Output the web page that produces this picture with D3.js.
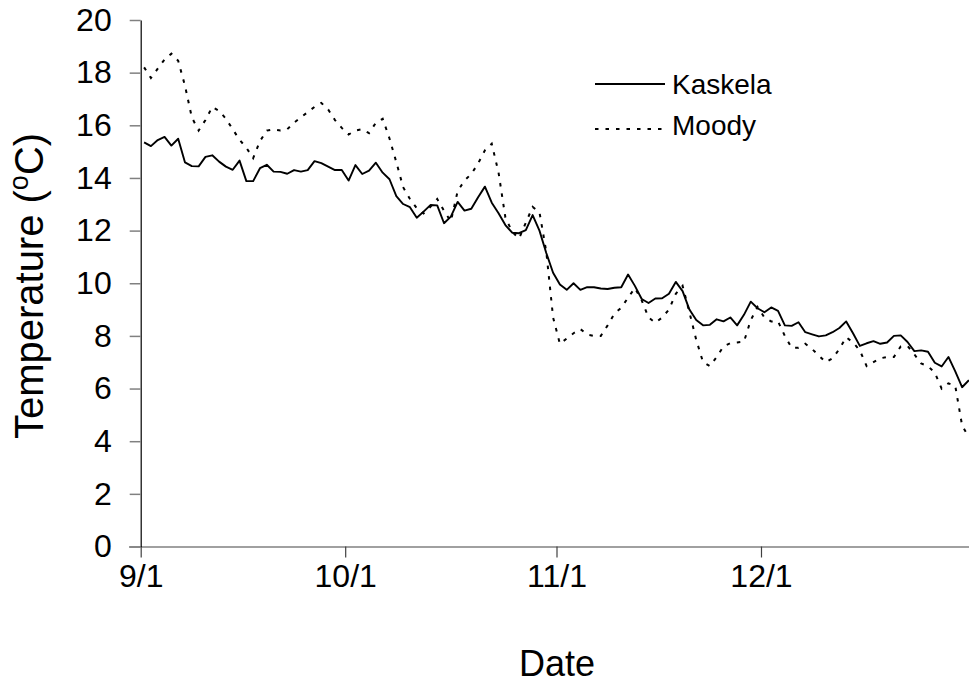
<!DOCTYPE html>
<html>
<head>
<meta charset="utf-8">
<script src="https://cdn.jsdelivr.net/npm/d3@7"></script>
<style>
  html, body { margin: 0; padding: 0; background: #fff; }
  svg { display: block; }
  text { font-family: "Liberation Sans", Arial, Helvetica, sans-serif; fill: #000; }
</style>
</head>
<body>
<svg id="chart" width="969" height="684"></svg>
<script>
// ---- data (daily, 1 Sep .. 31 Dec) ----
const startYear = 2001;
const kaskela = [
  15.35, 15.21, 15.44, 15.56, 15.23, 15.49, 14.59, 14.45, 14.44, 14.80,
  14.86, 14.62, 14.43, 14.31, 14.66, 13.88, 13.88, 14.37, 14.50, 14.24,
  14.23, 14.16, 14.30, 14.24, 14.30, 14.64, 14.56, 14.43, 14.30, 14.30,
  13.90, 14.49, 14.15, 14.28, 14.58, 14.20, 13.95, 13.31, 13.01, 12.89,
  12.49, 12.72, 12.97, 12.96, 12.28, 12.53, 13.09, 12.76, 12.83, 13.27,
  13.67, 13.06, 12.66, 12.21, 11.92, 11.90, 12.02, 12.59, 12.00, 11.15,
  10.40, 9.95, 9.75, 10.00, 9.75, 9.85, 9.85, 9.80, 9.78, 9.83,
  9.85, 10.33, 9.90, 9.40, 9.25, 9.42, 9.43, 9.60, 10.05, 9.70,
  9.00, 8.60, 8.40, 8.42, 8.63, 8.55, 8.70, 8.40, 8.80, 9.30,
  9.05, 8.90, 9.08, 8.95, 8.40, 8.38, 8.52, 8.14, 8.06, 7.98,
  8.02, 8.14, 8.30, 8.55, 8.10, 7.62, 7.72, 7.80, 7.70, 7.75,
  8.00, 8.02, 7.77, 7.42, 7.45, 7.40, 6.98, 6.84, 7.20, 6.65,
  6.05, 6.32
];
const moody = [
  18.20, 17.80, 18.15, 18.50, 18.72, 18.45, 17.50, 16.30, 15.80, 16.20,
  16.70, 16.55, 16.25, 15.85, 15.45, 15.15, 14.75, 15.40, 15.80, 15.85,
  15.80, 15.85, 16.10, 16.30, 16.50, 16.70, 16.85, 16.60, 16.20, 15.90,
  15.65, 15.80, 15.85, 15.70, 16.10, 16.25, 15.50, 14.60, 13.65, 13.20,
  12.85, 12.65, 12.90, 13.20, 12.75, 12.35, 13.50, 13.90, 14.15, 14.55,
  15.05, 15.30, 14.20, 12.50, 11.95, 11.70, 12.30, 12.90, 12.70, 11.20,
  8.70, 7.70, 7.90, 8.10, 8.26, 8.05, 8.00, 8.00, 8.40, 8.85,
  9.07, 9.45, 9.82, 9.35, 8.70, 8.50, 8.70, 9.00, 9.60, 9.90,
  8.90, 7.85, 7.00, 6.85, 7.20, 7.60, 7.72, 7.75, 7.78, 8.60,
  9.10, 8.70, 8.55, 8.55, 8.00, 7.55, 7.55, 7.70, 7.50, 7.25,
  7.00, 7.15, 7.50, 7.95, 7.75, 7.45, 6.85, 7.00, 7.15, 7.20,
  7.20, 7.60, 7.62, 7.30, 6.95, 6.85, 6.60, 6.00, 6.20, 6.10,
  4.60, 4.15
];
const seriesNames = ["Kaskela", "Moody"];
const yTicks = [0, 2, 4, 6, 8, 10, 12, 14, 16, 18, 20];
const xTickLabels = ["9/1", "10/1", "11/1", "12/1"];
const xTickMonths = [8, 9, 10, 11];   // month index of each tick (1st of month)

// ---- layout ----
const svg = d3.select("#chart");
const x = d3.scaleUtc()
  .domain([Date.UTC(startYear, 8, 1), Date.UTC(startYear + 1, 0, 1)])
  .range([140.7, 972.3]);
const y = d3.scaleLinear().domain([0, 20]).range([546.5, 20]);

const dayDate = i => new Date(Date.UTC(startYear, 8, 1 + i, 12));

// x axis
const xTickDates = xTickMonths.map(m => new Date(Date.UTC(startYear, m, 1)));
const xAxis = d3.axisBottom(x)
  .tickValues(xTickDates)
  .tickFormat((d, i) => xTickLabels[i])
  .tickSize(11)
  .tickSizeOuter(0)
  .tickPadding(7);
const gx = svg.append("g").attr("transform", `translate(0,${y(0)})`).call(xAxis);
gx.select(".domain").attr("stroke", "#808080").attr("stroke-width", 1.5)
  .attr("d", `M129,0.5H972`);
gx.selectAll(".tick line").attr("stroke", "#404040").attr("stroke-width", 1.2);
gx.selectAll(".tick text").attr("font-size", 32).attr("fill", "#000")
  .attr("font-family", "Liberation Sans, Arial, sans-serif");

// y axis
const yAxis = d3.axisLeft(y)
  .tickValues(yTicks)
  .tickSize(11)
  .tickSizeOuter(0)
  .tickPadding(18);
const gy = svg.append("g").attr("transform", `translate(${x(Date.UTC(startYear, 8, 1))},0)`).call(yAxis);
gy.select(".domain").attr("stroke", "#000").attr("stroke-width", 1.2);
gy.selectAll(".tick line").attr("stroke", "#808080").attr("stroke-width", 1.5);
gy.selectAll(".tick text").attr("font-size", 32).attr("fill", "#000")
  .attr("font-family", "Liberation Sans, Arial, sans-serif");

// lines
const line = d3.line()
  .x((d, i) => x(dayDate(i)))
  .y(d => y(d));

svg.append("path").datum(kaskela)
  .attr("fill", "none").attr("stroke", "#000").attr("stroke-width", 1.9)
  .attr("stroke-linejoin", "round")
  .attr("d", line);
svg.append("path").datum(moody)
  .attr("fill", "none").attr("stroke", "#000").attr("stroke-width", 2)
  .attr("stroke-dasharray", "3.5,7")
  .attr("d", line);

// legend
const legend = svg.append("g");
const legendRows = [
  { name: seriesNames[0], ly: 84, ty: 94, dash: null },
  { name: seriesNames[1], ly: 129, ty: 135, dash: "3.5,7" }
];
legendRows.forEach(r => {
  legend.append("line")
    .attr("x1", 595).attr("x2", 665).attr("y1", r.ly).attr("y2", r.ly)
    .attr("stroke", "#000").attr("stroke-width", r.dash ? 2 : 1.9)
    .attr("stroke-dasharray", r.dash);
  legend.append("text")
    .attr("x", 672).attr("y", r.ty)
    .attr("font-size", 28)
    .text(r.name);
});

// axis titles
svg.append("text")
  .attr("x", 557).attr("y", 676)
  .attr("text-anchor", "middle")
  .attr("font-size", 36)
  .text("Date");

const yt = svg.append("text")
  .attr("transform", "translate(43,286) rotate(-90)")
  .attr("text-anchor", "middle")
  .attr("font-size", 40);
yt.append("tspan").text("Temperature (");
yt.append("tspan").attr("font-size", 27).attr("dy", -15).text("o");
yt.append("tspan").attr("dy", 15).text("C)");
</script>
</body>
</html>
